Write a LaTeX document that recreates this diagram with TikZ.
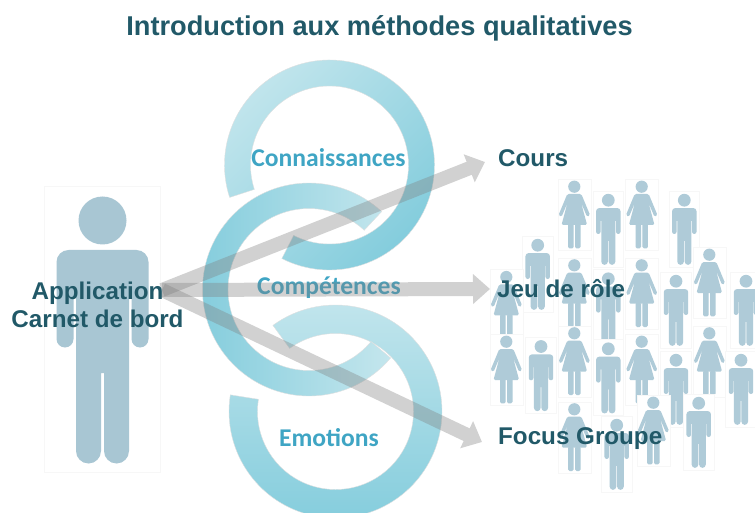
\documentclass[tikz,border=0pt]{standalone}
\usepackage{fontspec}
\setmainfont{Liberation Sans}
\newfontfamily\ringfont{Carlito}
\usetikzlibrary{arrows.meta}

\definecolor{titleteal}{HTML}{215968}
\definecolor{ringtext}{HTML}{3FA5C4}
\definecolor{ringlight}{HTML}{C4E6ED}
\definecolor{ringdark}{HTML}{82CCDC}
\definecolor{bigperson}{HTML}{A8C6D3}
\definecolor{smallperson}{HTML}{AFCBD8}

% one open ring: centre, start angle, end angle, outer radius, inner radius
\newcommand{\ringarc}[6]{
  \path[shift={(#1)},draw=black!12,line width=.4pt,#6] (#2:#4) arc[start angle=#2,end angle=#3,radius=#4]
    -- (#3:#5) arc[start angle=#3,end angle=#2,radius=#5] -- cycle;
}

\tikzset{
  man/.pic={
    \path[fill=white,draw=black!3,line width=.6pt] (-58,-10) rectangle (58,276);
    \fill (0,24.5) circle (24);
    \fill (-46,143) -- (-46,66) arc[start angle=180,end angle=270,radius=12]
      -- (34,54) arc[start angle=270,end angle=360,radius=12]
      -- (46,143) arc[start angle=0,end angle=180,radius=8.5]
      -- (29,102) -- (26.5,102) -- (26.5,255) arc[start angle=0,end angle=180,radius=12.5]
      -- (1.5,177) -- (-1.5,177) -- (-1.5,255) arc[start angle=0,end angle=180,radius=12.5]
      -- (-26.5,102) -- (-29,102) -- (-29,143) arc[start angle=0,end angle=180,radius=8.5]
      -- cycle;
  },
  woman/.pic={
    \path[fill=white,draw=black!3,line width=.6pt] (-16.5,-1.5) rectangle (16.5,69.5);
    \fill (0,6) circle (6.1);
    \fill[rounded corners=1.5pt] (-7,13.3) -- (7,13.3) -- (15.8,34.5) -- (12.8,36.2) -- (6.8,22)
      -- (12.8,44.3) -- (-12.8,44.3) -- (-6.8,22) -- (-12.8,36.2) -- (-15.8,34.5) -- cycle;
    \fill[rounded corners=1.5pt] (-6.2,43) rectangle (-.7,67.7);
    \fill[rounded corners=1.5pt] (.7,43) rectangle (6.2,67.7);
  },
  small/.style={scale=.266},
  flowarrow/.style={draw=black!50,fill=black!50,line width=14pt,
    -{Triangle[length=17pt,width=29pt]}},
  ringlabel/.style={font=\ringfont\bfseries\fontsize{25.6}{30}\selectfont,text=ringtext,inner sep=0pt},
  darklabel/.style={font=\bfseries\fontsize{24.2}{28}\selectfont,text=titleteal,inner sep=0pt}
}

\begin{document}
\begin{tikzpicture}[x=1pt,y=-1pt]

\path[use as bounding box,clip] (0,0) rectangle (755,513);

\node[darklabel,font=\bfseries\fontsize{27.2}{30}\selectfont] (title) at (379.5,28) {Introduction aux méthodes qualitatives};

% the big figure
\begin{scope}[color=bigperson]
\pic at (102.5,196) {man};
\end{scope}

% the group
\begin{scope}[color=smallperson]
\pic at (574.3,180.7) {woman};
\pic[small] at (608.3,193.7) {man};
\pic at (641.7,180.7) {woman};
\pic[small] at (684.3,193.7) {man};
\pic at (709.3,248.7) {woman};
\pic[small] at (537.7,238.7) {man};
\pic at (506.3,271) {woman};
\pic at (574.3,259.3) {woman};
\pic[small] at (608.3,272.3) {man};
\pic at (641.7,259.3) {woman};
\pic[small] at (676,274.7) {man};
\pic[small] at (746,274.7) {man};
\pic at (506.3,335.7) {woman};
\pic[small] at (541,340) {man};
\pic at (574.3,327.3) {woman};
\pic[small] at (608.3,342.3) {man};
\pic at (641.7,335.7) {woman};
\pic[small] at (676,353.7) {man};
\pic at (709.3,327.3) {woman};
\pic[small] at (741,353.7) {man};
\pic at (574.3,403.3) {woman};
\pic[small] at (616.7,418.7) {man};
\pic at (653.3,396.7) {woman};
\pic[small] at (698.7,396.7) {man};
\end{scope}

% the three rings
\ringarc{335.5,411.5}{234}{549}{106.5}{78}{top color=ringlight,bottom color=ringdark}
\ringarc{329.5,165}{162}{477}{105}{79}{top color=ringlight,bottom color=ringdark,shading angle=45}
\ringarc{309,289.5}{-47}{-320}{106.5}{81}{left color=ringdark,right color=ringlight}

\node[ringlabel] (connaissances) at (328.5,158) {Connaissances};
\node[ringlabel] (competences) at (329,288) {Compétences};
\node[ringlabel] (emotions) at (329,438) {Emotions};

\coordinate (origin) at (162,290);
\coordinate (tipcours) at (485,162);
\coordinate (tipjeu) at (490,289);
\coordinate (tipfocus) at (482,442);

\begin{scope}[transparency group,opacity=.36]
\draw[flowarrow] (origin) -- (tipcours);
\end{scope}
\begin{scope}[transparency group,opacity=.36]
\draw[flowarrow] (origin) -- (tipjeu);
\end{scope}
\begin{scope}[transparency group,opacity=.36]
\draw[flowarrow] (origin) -- (tipfocus);
\end{scope}

\node[darklabel,align=center] (application) at (97.5,305) {Application\\Carnet de bord};
\node[darklabel,anchor=west] (cours) at (498,158) {Cours};
\node[darklabel,anchor=west] (jeu) at (497,289) {Jeu de rôle};
\node[darklabel,anchor=west] (focus) at (498,439) {Focus Groupe};

\end{tikzpicture}
\end{document}
